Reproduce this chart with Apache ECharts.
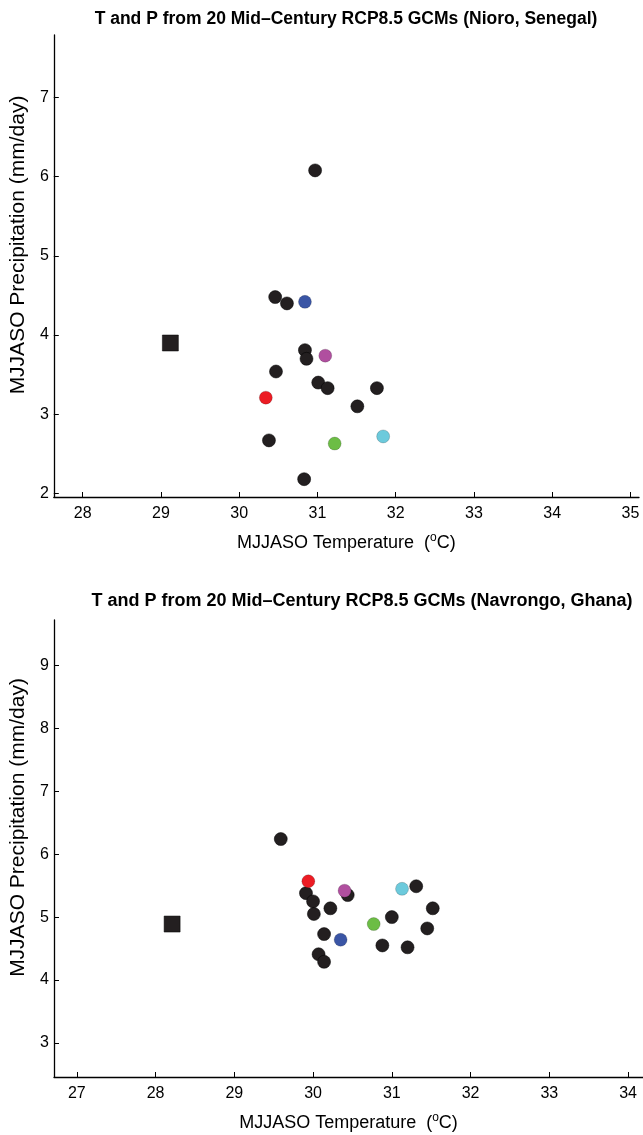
<!DOCTYPE html>
<html>
<head>
<meta charset="utf-8">
<script src="https://cdn.jsdelivr.net/npm/echarts@6/dist/echarts.min.js"></script>
<style>
html,body{margin:0;padding:0;background:#fff;}
#c{width:643px;height:1135px;}
</style>
</head>
<body>
<div id="c"></div>
<script>
// ---------- DATA ----------
// Top: Nioro, Senegal
const topTitle = 'T and P from 20 Mid\u2013Century RCP8.5 GCMs (Nioro, Senegal)';
const topXTicks = [28, 29, 30, 31, 32, 33, 34, 35];
const topYTicks = [2, 3, 4, 5, 6, 7];
const topObsT = [29.12];
const topObsP = [3.90];
const topGcmT = [30.97, 30.46, 30.61, 30.84, 30.86, 30.47, 31.01, 31.13, 31.76, 31.51, 30.38, 30.83];
const topGcmP = [6.08, 4.48, 4.40, 3.81, 3.70, 3.54, 3.40, 3.33, 3.33, 3.10, 2.67, 2.18];
// highlighted GCMs: red, blue, magenta, green, cyan
const topHiT = [30.34, 30.84, 31.10, 31.22, 31.84];
const topHiP = [3.21, 4.42, 3.74, 2.63, 2.72];

// Bottom: Navrongo, Ghana
const botTitle = 'T and P from 20 Mid\u2013Century RCP8.5 GCMs (Navrongo, Ghana)';
const botXTicks = [27, 28, 29, 30, 31, 32, 33, 34];
const botYTicks = [3, 4, 5, 6, 7, 8, 9];
const botObsT = [28.21];
const botObsP = [4.89];
const botGcmT = [29.59, 30.44, 31.31, 29.91, 30.00, 30.01, 30.22, 31.52, 31.00, 31.45, 30.14, 30.88, 31.20, 30.07, 30.14];
const botGcmP = [6.24, 5.35, 5.49, 5.38, 5.25, 5.05, 5.14, 5.14, 5.00, 4.82, 4.73, 4.55, 4.52, 4.41, 4.29];
const botHiT = [29.94, 30.35, 30.40, 30.77, 31.13];
const botHiP = [5.57, 4.64, 5.42, 4.89, 5.45];

const xName = 'MJJASO Temperature';
const yName = 'MJJASO Precipitation (mm/day)';

// ---------- STYLE ----------
const HI_COLORS = ['#ec1c24', '#3a55a5', '#b04f9f', '#6cbd45', '#6ccadc'];
const FONT = '"Liberation Sans", Arial, Helvetica, sans-serif';
const BLACK = '#231f20';

function zip(a, b) { return a.map((v, i) => [v, b[i]]); }

function xAxis(gi, min, max, ticks) {
  return {
    type: 'value', gridIndex: gi, min: min, max: max,
    splitLine: { show: false },
    axisLine: { show: true, onZero: false, lineStyle: { color: '#000', width: 1.3 } },
    axisTick: { show: true, inside: true, length: 5, customValues: ticks, lineStyle: { color: '#000', width: 1 } },
    axisLabel: { customValues: ticks, color: '#000', fontFamily: FONT, fontSize: 16, margin: 9 },
    name: '{a|' + xName + '  (}{s|o}{a|C)}',
    nameLocation: 'middle', nameGap: 35,
    nameTextStyle: {
      fontFamily: FONT, color: '#000',
      rich: {
        a: { fontFamily: FONT, fontSize: 18, color: '#000', lineHeight: 22 },
        s: { fontFamily: FONT, fontSize: 12, color: '#000', lineHeight: 22, padding: [0, 0, 10, 0] }
      }
    }
  };
}
function yAxis(gi, min, max, ticks) {
  return {
    type: 'value', gridIndex: gi, min: min, max: max,
    splitLine: { show: false },
    axisLine: { show: true, onZero: false, lineStyle: { color: '#000', width: 1.3 } },
    axisTick: { show: true, inside: true, length: 5, customValues: ticks, lineStyle: { color: '#000', width: 1 } },
    axisLabel: { customValues: ticks, color: '#000', fontFamily: FONT, fontSize: 16, margin: 5 },
    name: yName, nameLocation: 'middle', nameGap: 24,
    nameTextStyle: { fontFamily: FONT, fontSize: 21, color: '#000', padding: [0, 0, 0, 42] }
  };
}
function series(gi, obsT, obsP, gT, gP, hT, hP) {
  const s = [
    { type: 'scatter', xAxisIndex: gi, yAxisIndex: gi, symbol: 'rect', symbolSize: 16,
      itemStyle: { color: BLACK, borderColor: '#000', borderWidth: 0.5, opacity: 1 }, data: zip(obsT, obsP), z: 3 },
    { type: 'scatter', xAxisIndex: gi, yAxisIndex: gi, symbol: 'circle', symbolSize: 13,
      itemStyle: { color: BLACK, borderColor: '#000', borderWidth: 0.5, opacity: 1 }, data: zip(gT, gP), z: 3 }
  ];
  hT.forEach((t, i) => {
    s.push({ type: 'scatter', xAxisIndex: gi, yAxisIndex: gi, symbol: 'circle', symbolSize: 13,
      itemStyle: { color: HI_COLORS[i], borderColor: 'rgba(0,0,0,0.35)', borderWidth: 0.5, opacity: 1 },
      data: [[t, hP[i]]], z: 4 });
  });
  return s;
}

const chart = echarts.init(document.getElementById('c'), null, { renderer: 'canvas' });
chart.setOption({
  animation: false,
  backgroundColor: '#fff',
  title: [
    { text: topTitle, left: 341, top: 5, textAlign: 'center',
      textStyle: { fontFamily: FONT, fontSize: 17.5, fontWeight: 'bold', color: '#000' } },
    { text: botTitle, left: 357, top: 587, textAlign: 'center',
      textStyle: { fontFamily: FONT, fontSize: 18, fontWeight: 'bold', color: '#000' } }
  ],
  grid: [
    { left: 51, right: 4, top: 35, height: 462 },
    { left: 54, right: 0, top: 620, height: 460 }
  ],
  xAxis: [xAxis(0, 27.63, 35.11, topXTicks), xAxis(1, 26.71, 34.19, botXTicks)],
  yAxis: [yAxis(0, 1.955, 7.79, topYTicks), yAxis(1, 2.46, 9.72, botYTicks)],
  series: series(0, topObsT, topObsP, topGcmT, topGcmP, topHiT, topHiP)
    .concat(series(1, botObsT, botObsP, botGcmT, botGcmP, botHiT, botHiP))
});
</script>
</body>
</html>
